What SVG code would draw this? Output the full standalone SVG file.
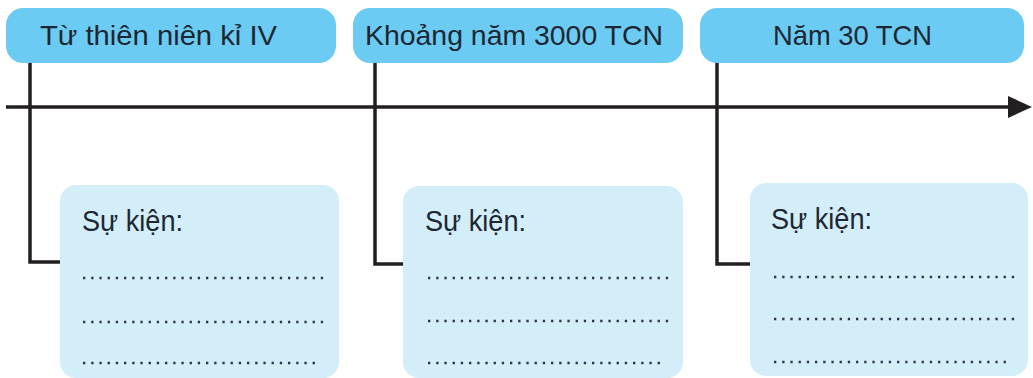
<svg xmlns="http://www.w3.org/2000/svg" width="1033" height="378" viewBox="0 0 1033 378">
<style>
.hdr{fill:#6ccbf2}
.evt{fill:#d3eef9}
.ht{font-family:"Liberation Sans",Arial,sans-serif;font-size:28px;fill:#1d2733}
.et{font-family:"Liberation Sans",Arial,sans-serif;font-size:29px;fill:#1d2733}
.ln{stroke:#231f20;stroke-width:3.5;fill:none}
.dot{stroke:#2d3640;stroke-width:2.3;stroke-dasharray:2.3 5.9;fill:none}
</style>
<rect width="1033" height="378" fill="#ffffff"/>
<g id="connectors">
<line class="ln" x1="6" y1="107" x2="1010" y2="107"/>
<polygon points="1008,96 1032,107 1008,118" fill="#231f20"/>
<polyline class="ln" points="30,62 30,262 61,262"/>
<polyline class="ln" points="375,62 375,264 404,264"/>
<polyline class="ln" points="717,62 717,264 751,264"/>
</g>
<g id="h1">
<rect class="hdr" x="6" y="8" width="330" height="55" rx="17"/>
<text class="ht" x="40" y="45" textLength="237" lengthAdjust="spacingAndGlyphs">Từ thiên niên kỉ IV</text>
</g>
<g id="h2">
<rect class="hdr" x="353" y="8" width="330" height="55" rx="17"/>
<text class="ht" x="365" y="45" textLength="298" lengthAdjust="spacingAndGlyphs">Khoảng năm 3000 TCN</text>
</g>
<g id="h3">
<rect class="hdr" x="700" y="8" width="324" height="55" rx="17"/>
<text class="ht" x="773" y="45" textLength="159" lengthAdjust="spacingAndGlyphs">Năm 30 TCN</text>
</g>
<g id="e1">
<rect class="evt" x="60" y="185" width="279" height="193" rx="16"/>
<text class="et" x="82" y="231" textLength="101" lengthAdjust="spacingAndGlyphs">Sự kiện:</text>
<line class="dot" x1="83" y1="278" x2="328" y2="278"/>
<line class="dot" x1="83" y1="322" x2="328" y2="322"/>
<line class="dot" x1="83" y1="363" x2="320" y2="363"/>
</g>
<g id="e2">
<rect class="evt" x="403" y="186" width="280" height="192" rx="16"/>
<text class="et" x="425" y="231" textLength="101" lengthAdjust="spacingAndGlyphs">Sự kiện:</text>
<line class="dot" x1="428" y1="278" x2="671" y2="278"/>
<line class="dot" x1="428" y1="321" x2="671" y2="321"/>
<line class="dot" x1="428" y1="363" x2="663" y2="363"/>
</g>
<g id="e3">
<rect class="evt" x="750" y="183" width="278" height="193" rx="16"/>
<text class="et" x="771" y="229" textLength="101" lengthAdjust="spacingAndGlyphs">Sự kiện:</text>
<line class="dot" x1="774" y1="277" x2="1016" y2="277"/>
<line class="dot" x1="774" y1="319" x2="1016" y2="319"/>
<line class="dot" x1="774" y1="362" x2="1007" y2="362"/>
</g>
</svg>
